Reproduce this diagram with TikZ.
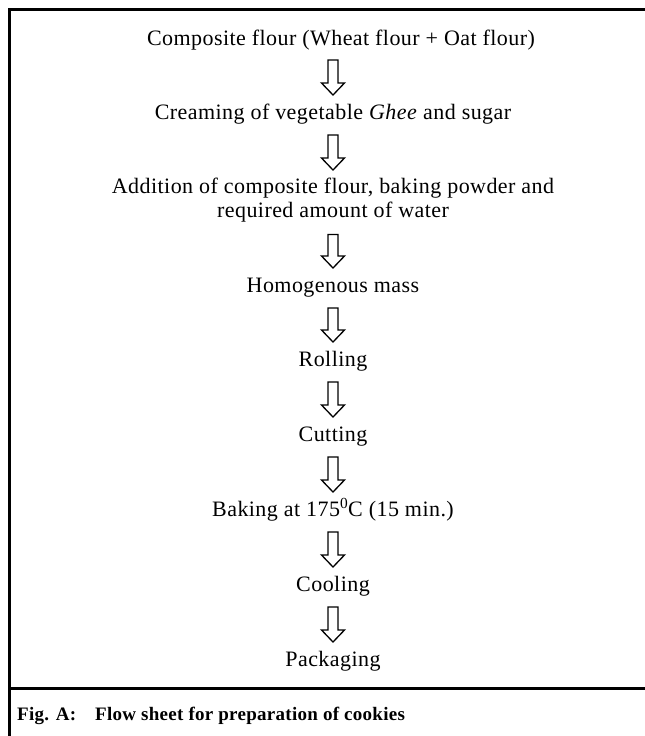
\documentclass[tikz,border=0pt]{standalone}
\usepackage{fontspec}
\setmainfont{Liberation Serif}
\newfontfamily\bodyfont[LetterSpace=2]{Liberation Serif}
\newfontfamily\capfont[LetterSpace=1.5]{Liberation Serif}
\usetikzlibrary{calc}
\tikzset{
  stepnode/.style={anchor=base, inner sep=0pt, align=center,
    font=\bodyfont\fontsize{22}{24}\selectfont},
  capnode/.style={anchor=base west, inner sep=0pt,
    font=\capfont\bfseries\fontsize{19}{19}\selectfont},
  frameline/.style={line width=2.5pt, draw=black},
  sepline/.style={line width=3.2pt, draw=black},
  hollow/.style={draw=black, line width=1.3pt, fill=white, line join=miter}
}
\newcommand\harrow[2]{%
  \draw[hollow] let \p1=#1, \p2=#2 in
    (\x2-5pt,\y1) -- (\x2+5pt,\y1) -- (\x2+5pt,\y2+12pt) -- (\x2+11.5pt,\y2+12pt)
    -- (\x2,\y2) -- (\x2-11.5pt,\y2+12pt) -- (\x2-5pt,\y2+12pt) -- cycle;}
\begin{document}
\begin{tikzpicture}[x=1pt,y=-1pt]
\useasboundingbox (0,0) rectangle (645,736);
% frame
\draw[frameline] (9.5,736) -- (9.5,9.5) -- (645,9.5);
\draw[sepline] (9.5,688.5) -- (645,688.5);
% steps
\node[stepnode] (s1) at (341,45) {Composite flour (Wheat flour + Oat flour)};
\node[stepnode] (s2) at (333,119) {Creaming of vegetable \textit{Ghee} and sugar};
\node[stepnode, anchor=north] (s3) at (333,178) {Addition of composite flour, baking powder and\\required amount of water};
\node[stepnode] (s4) at (333,292) {Homogenous mass};
\node[stepnode] (s5) at (333,366) {Rolling};
\node[stepnode] (s6) at (333,441) {Cutting};
\node[stepnode] (s7) at (333,516) {Baking at 175\textsuperscript{0}C (15 min.)};
\node[stepnode] (s8) at (333,591) {Cooling};
\node[stepnode] (s9) at (333,666) {Packaging};
% arrows
\harrow{($(s1.base)+(0,15)$)}{($(s2.base)+(0,-24)$)}
\harrow{($(s2.base)+(0,16)$)}{($(s3.north)+(0,-8)$)}
\harrow{($(s3.south)+(0,12)$)}{($(s4.base)+(0,-24)$)}
\harrow{($(s4.base)+(0,16)$)}{($(s5.base)+(0,-24)$)}
\harrow{($(s5.base)+(0,16)$)}{($(s6.base)+(0,-24)$)}
\harrow{($(s6.base)+(0,16)$)}{($(s7.base)+(0,-24)$)}
\harrow{($(s7.base)+(0,16)$)}{($(s8.base)+(0,-24)$)}
\harrow{($(s8.base)+(0,16)$)}{($(s9.base)+(0,-24)$)}
% caption
\node[capnode] (cap) at (17,720) {\makebox[78pt][l]{Fig. A:}Flow sheet for preparation of cookies};
\end{tikzpicture}
\end{document}
